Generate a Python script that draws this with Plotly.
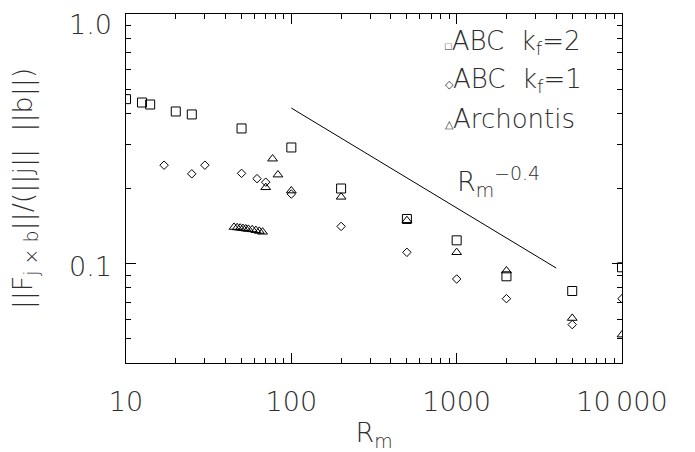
import numpy as np
import plotly.graph_objects as go

# ABC flow, forcing wavenumber k_f = 2
rm_kf2 = [10, 12.5, 14, 20, 25, 50, 100, 200, 500, 1000, 2000, 5000, 10000]
f_kf2 = [0.456, 0.442, 0.434, 0.407, 0.396, 0.348, 0.292, 0.200, 0.151, 0.124, 0.089, 0.0777, 0.0967]

# ABC flow, forcing wavenumber k_f = 1
rm_kf1 = [17, 25, 30, 50, 62, 70, 100, 200, 500, 1000, 2000, 5000, 10000]
f_kf1 = [0.248, 0.229, 0.248, 0.230, 0.219, 0.212, 0.190, 0.141, 0.111, 0.0868, 0.0724, 0.057, 0.0724]

# Archontis flow
rm_arch = [45, 47, 49, 51, 53, 55, 58, 61, 64, 67,
           70, 77, 83, 100, 200, 500, 1000, 2000, 5000, 10000]
f_arch = [0.140, 0.1395, 0.139, 0.1385, 0.138, 0.1375, 0.137, 0.136, 0.135, 0.134,
          0.202, 0.263, 0.227, 0.196, 0.185, 0.149, 0.111, 0.0937, 0.0605, 0.0519]

# Reference power law R_m^-0.4
fit_rm = [100, 4000]
fit_amp = 0.42
fit_exp = -0.4

x_tickvals = [10, 100, 1000, 10000]
x_ticktext = ["10", "100", "1000", "10\u2009000"]
y_tickvals = [0.1, 1.0]
y_ticktext = ["0.1", "1.0"]
y_label_dy = [-3, -10]   # vertical nudge of the y tick labels, px

x_minor = [m * 10 ** d for d in range(1, 4) for m in range(2, 10)]
y_minor = [m * 10 ** d for d in (-2, -1) for m in range(2, 10) if m * 10 ** d > 0.039]

FONT = "DejaVu Sans"
WEIGHT = 200
TXT = "#2e2e2e"

fig = go.Figure()

mk = dict(color="black", width=1)
fig.add_trace(go.Scatter(x=rm_kf2, y=f_kf2, mode="markers",
                         marker=dict(symbol="square-open", size=9, color="black", line=mk)))
fig.add_trace(go.Scatter(x=rm_kf1, y=f_kf1, mode="markers",
                         marker=dict(symbol="diamond-open", size=6.5, color="black", line=mk)))
fig.add_trace(go.Scatter(x=rm_arch, y=f_arch, mode="markers",
                         marker=dict(symbol="triangle-up-open", size=8.5, color="black", line=mk)))

fit_f = [fit_amp * (r / 100.0) ** fit_exp for r in fit_rm]
fig.add_trace(go.Scatter(x=fit_rm, y=fit_f, mode="lines",
                         line=dict(color="black", width=1)))

axis_common = dict(
    type="log", showgrid=False, zeroline=False, automargin=False,
    showline=True, linecolor="black", linewidth=1.3, mirror="allticks",
    ticks="inside", ticklen=10, tickwidth=1, tickcolor="black",
    tickfont=dict(family=FONT, size=27, color=TXT, weight=WEIGHT),
    tickmode="array",
)

fig.update_xaxes(
    **axis_common, range=[1, 4],
    tickvals=x_tickvals, ticktext=x_ticktext,
    minor=dict(tickmode="array", tickvals=x_minor, ticks="inside", ticklen=5,
               tickcolor="black", tickwidth=1, showgrid=False),
    ticklabelstandoff=14,
    title=dict(text="R<sub>m</sub>", font=dict(family=FONT, size=27, color=TXT, weight=WEIGHT),
               standoff=8),
)
fig.update_yaxes(
    **axis_common, range=[np.log10(0.04), 0],
    tickvals=y_tickvals, showticklabels=False,
    minor=dict(tickmode="array", tickvals=y_minor, ticks="inside", ticklen=5,
               tickcolor="black", tickwidth=1, showgrid=False),
    title=dict(text="||F<sub>j \u00d7 b</sub>||/(||j||\u00a0\u00a0||b||)",
               font=dict(family=FONT, size=27, color=TXT, weight=WEIGHT), standoff=84),
)

# y tick labels placed beside their ticks
for val, txt, dy in zip(y_tickvals, y_ticktext, y_label_dy):
    fig.add_annotation(
        xref="paper", yref="y", x=0, y=np.log10(val),
        xanchor="right", yanchor="middle", xshift=-12, yshift=dy,
        showarrow=False, text=txt,
        font=dict(family=FONT, size=27, color=TXT, weight=WEIGHT),
    )

# Legend drawn as text rows with small symbol glyphs
legend_rows = [
    ("\u25a1", "ABC\u00a0\u00a0k<sub>f</sub>=2"),
    ("\u25c7", "ABC\u00a0\u00a0k<sub>f</sub>=1"),
    ("\u25b3", "Archontis"),
]
for i, (sym, label) in enumerate(legend_rows):
    fig.add_annotation(
        xref="paper", yref="paper", x=(443 - 126) / 496, y=1 - (42 + 38.5 * i - 14) / 349,
        xanchor="left", yanchor="middle", showarrow=False,
        text=f'<span style="font-size:11px">{sym}</span>{label}',
        font=dict(family=FONT, size=26, color=TXT, weight=WEIGHT),
    )

fig.add_annotation(
    xref="paper", yref="paper", x=(455 - 126) / 496, y=1 - (182 - 14) / 349,
    xanchor="left", yanchor="middle", showarrow=False,
    text="R<sub>m</sub><sup>\u22120.4</sup>",
    font=dict(family=FONT, size=27, color=TXT, weight=WEIGHT),
)

fig.update_layout(
    width=695, height=452,
    margin=dict(l=126, r=73, t=14, b=89),
    paper_bgcolor="white", plot_bgcolor="white",
    showlegend=False,
)

fig.write_html("out.html")
